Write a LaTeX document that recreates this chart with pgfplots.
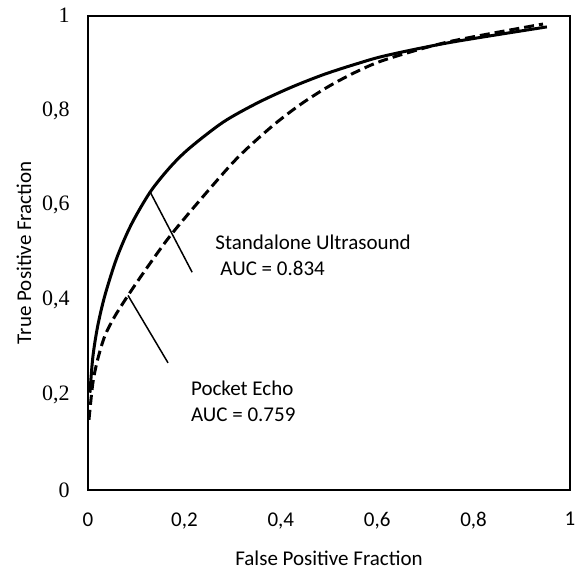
\documentclass[border=0pt]{standalone}
\usepackage{fontspec}
\setmainfont{Carlito}
\newfontfamily\timesfont{Liberation Serif}
\usepackage{pgfplots}
\pgfplotsset{compat=1.18}

\begin{document}
\begin{tikzpicture}
\begin{axis}[
  width=241pt, height=237.25pt,
  scale only axis,
  xmin=0, xmax=1, ymin=0, ymax=1,
  axis line style={line width=1pt},
  major tick length=0pt,
  xtick={0,0.2,0.4,0.6,0.8,1},
  xticklabels={0,{0,2},{0,4},{0,6},{0,8},1},
  ytick={0,0.2,0.4,0.6,0.8,1},
  yticklabels={0,{0,2},{0,4},{0,6},{0,8},1},
  xticklabel style={font=\fontsize{10.5}{12.6}\selectfont, anchor=north, inner sep=0pt, yshift=-11pt},
  yticklabel style={font=\timesfont\fontsize{11}{13}\selectfont, anchor=east, inner sep=0pt, xshift=-9pt},
  xlabel={False Positive Fraction},
  ylabel={True Positive Fraction},
  label style={font=\fontsize{10.5}{12.6}\selectfont},
  xlabel style={at={(rel axis cs:0.5,-0.143)}, anchor=center},
  ylabel style={at={(rel axis cs:-0.133,0.5)}, anchor=center, rotate=0},
  clip=false,
]
% Standalone Ultrasound
\addplot[black, line width=1.5pt, smooth] coordinates {
  (0.004,0.205) (0.01,0.28) (0.02,0.345) (0.035,0.41) (0.06,0.49)
  (0.09,0.56) (0.129,0.628) (0.17,0.68) (0.21,0.72) (0.28,0.775)
  (0.35,0.815) (0.42,0.848) (0.49,0.876) (0.56,0.899) (0.62,0.916)
  (0.75,0.943) (0.952,0.976)
};
% Pocket Echo
\addplot[black, line width=1.5pt, smooth, dash pattern=on 5pt off 2.5pt] coordinates {
  (0.002,0.148) (0.01,0.225) (0.02,0.275) (0.035,0.325) (0.055,0.365)
  (0.083,0.41) (0.12,0.465) (0.17,0.535) (0.24,0.62) (0.31,0.70)
  (0.38,0.765) (0.44,0.812) (0.50,0.851) (0.56,0.883) (0.62,0.908)
  (0.75,0.945) (0.944,0.982)
};
% pointer lines
\addplot[black, line width=0.75pt] coordinates {(0.129,0.628) (0.216,0.459)};
\addplot[black, line width=0.75pt] coordinates {(0.083,0.41) (0.166,0.268)};

\node[anchor=base west, inner sep=0pt, font=\fontsize{10.5}{12.6}\selectfont] at (axis cs:0.2635,0.506) {Standalone Ultrasound};
\node[anchor=base west, inner sep=0pt, font=\fontsize{10.5}{12.6}\selectfont] at (axis cs:0.274,0.453) {AUC = 0.834};
\node[anchor=base west, inner sep=0pt, font=\fontsize{10.5}{12.6}\selectfont] at (axis cs:0.213,0.20) {Pocket Echo};
\node[anchor=base west, inner sep=0pt, font=\fontsize{10.5}{12.6}\selectfont] at (axis cs:0.213,0.144) {AUC = 0.759};

\coordinate (bl) at (rel axis cs:-0.1826,-0.1707);
\coordinate (tr) at (rel axis cs:1.029,1.0327);
\end{axis}
\pgfresetboundingbox
\path[use as bounding box] (bl) rectangle (tr);
\end{tikzpicture}
\end{document}
